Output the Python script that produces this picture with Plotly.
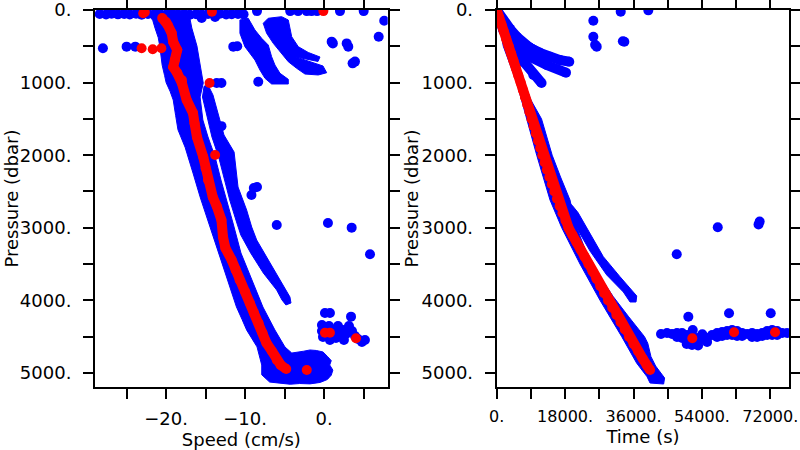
import plotly.graph_objects as go

BLUE = "#0000ff"
RED = "#ff0000"

# ---------------- Left panel: Speed (cm/s) vs Pressure (dbar) ----------------
# main blue band outline (speed, pressure)
MAIN_BAND_S = [-22.0, -21.7, -21.4, -21.0, -20.8, -20.6, -20.5, -20.2, -20.0, -19.5, -19.1, -18.8, -18.5,
               -17.6, -17.1, -16.6, -15.7, -15.2, -14.7, -13.8, -13.4, -12.9, -11.9, -11.1, -10.4, -9.8,
               -8.5, -7.9, -7.9, -6.9, -5.6, -4.3, -3.1, -1.8, -0.5, 0.4, 0.9, 1.1, 0.7, 0.9, 0.4,
               -0.15, -1.0, -1.8, -2.6, -3.1, -4.1,
               -4.96, -6.23, -7.75, -9.27, -10.53, -11.54, -12.4, -13.06, -13.8, -14.7, -15.35, -15.7,
               -15.3, -15.7, -16.1, -16.75, -17.0, -17.5]
MAIN_BAND_P = [100, 140, 250, 380, 500, 640, 760, 900, 1000, 1120, 1240, 1450, 1650,
               1890, 2060, 2245, 2575, 2740, 2900, 3170, 3330, 3485, 3815, 4090, 4260, 4410,
               4640, 4890, 5025, 5125, 5140, 5155, 5145, 5150, 5130, 5090, 5030, 4960, 4890, 4830, 4770,
               4710, 4690, 4683, 4700, 4711, 4725,
               4642, 4408, 4091, 3678, 3347, 2934, 2617, 2342, 2025, 1749, 1515, 1198,
               1006, 758, 496, 248, 110, 90]

# right-hand band that splits away and ends near 4000 dbar
SIDE_BAND_S = [-15.4, -14.75, -14.2, -13.35, -12.6, -11.95, -11.05, -10.55, -9.3, -7.7, -6.01, -5.34,
               -4.84, -4.2, -4.33, -5.81, -7.28, -8.54, -9.17, -9.81, -10.9, -11.15, -11.4, -12.68,
               -13.44, -14.07, -14.7, -15.2]
SIDE_BAND_P = [1198, 1515, 1749, 2025, 2342, 2617, 2934, 3099, 3347, 3623, 3857, 3994,
               4063, 4036, 3953, 3678, 3402, 3168, 2989, 2755, 2438, 2204, 1956, 1722,
               1419, 1171, 1033, 1050]

# upper-right shallow streaks
STREAK_A_S = [-10.66, -10.66, -10.03, -8.76, -8.13, -7.49, -6.65, -4.54, -4.54, -5.59, -6.23, -6.65,
              -7.08, -7.91, -8.76, -9.61]
STREAK_A_P = [138, 321, 505, 689, 826, 941, 1019, 1019, 955, 872, 758, 643, 482, 390, 275, 114]

STREAK_B_S = [-7.71, -7.28, -6.44, -5.38, -4.54, -3.48, -2.43, -0.75, 0.32, -0.15, -1.04, -3.57,
              -0.78, -0.53, -2.01, -3.28, -4.11, -4.54, -5.38, -7.08]
STREAK_B_P = [183, 321, 459, 596, 712, 803, 882, 895, 864, 771, 737, 647,
              709, 647, 585, 505, 368, 138, 92, 114]

# isolated blue samples
LEFT_DOTS_S = [-28.4, -27.6, -26.9, -26.1, -25.3, -24.6, -23.8, -23.1, -22.3, -21.5, -20.8, -20.0, -19.3,
               -18.5, -17.7, -17.0, -16.2, -15.5, -14.7, -13.9, -13.2, -12.4, -11.7, -10.9, -10.2,
               -8.5, -4.3, -3.3, -2.2, -1.6, -0.9, 2.0, 5.0, -15.5, -13.8, -18.0,
               -28.0, -25.0, -23.9, -11.5, -11.0, -13.6, -13.0, -13.0, -8.9, -8.5, -9.2, -6.0,
               0.48, 3.48, 5.8, 0.95, 1.1, 3.05, 2.85, 3.9, 3.6, 6.9, 7.6, -8.34,
               0.1, 0.73, 3.4, -0.28, -0.28, -0.15, 0.61, 0.73, 1.37, 1.75, 2.0, 2.38, 2.76,
               3.14, 3.52, 3.9, 4.28, 4.78, 5.16, 1.49, 2.5]
LEFT_DOTS_P = [55, 62, 50, 60, 55, 62, 50, 65, 55, 60, 55, 62, 50,
               60, 55, 65, 58, 62, 55, 60, 52, 62, 58, 55, 60,
               15, 15, 15, 15, 15, 15, 15, 15, 110, 95, 100,
               528, 505, 505, 505, 500, 1006, 1006, 1600, 2452, 2438, 2548, 2961,
               2934, 2998, 3365, 436, 460, 505, 460, 711, 735, 368, 147, 988,
               4174, 4174, 4224, 4339, 4422, 4504, 4353, 4545, 4408, 4353, 4477, 4408, 4463,
               4353, 4422, 4490, 4532, 4573, 4545, 4518, 4545]

# red (selected) profile
RED_LINE_S = [-20.5, -20.0, -19.8, -19.3, -19.1, -18.6, -18.9, -19.1, -18.6, -18.0, -18.0, -17.4, -16.6,
              -16.4, -16.1, -15.3, -15.0, -14.7, -14.1, -13.6, -13.0, -12.8, -12.5, -11.7, -11.2,
              -10.7, -10.0, -9.4, -8.9, -8.3, -7.8, -7.3, -6.6, -6.0, -5.5, -4.8]
RED_LINE_P = [110, 165, 207, 317, 441, 551, 689, 785, 868, 964, 1006, 1240, 1419,
              1560, 1749, 2025, 2180, 2342, 2576, 2700, 2893, 3127, 3280, 3444, 3580,
              3719, 3880, 4036, 4170, 4311, 4450, 4587, 4700, 4821, 4890, 4945]
RED_DOTS_S = [-22.9, -22.7, -14.2, -0.1, -23.1, -21.7, -20.6, -14.5, -13.8, -2.2, 0.1, 0.73, 4.03]
RED_DOTS_P = [45, 30, 25, 15, 528, 541, 528, 1006, 1997, 4959, 4445, 4445, 4522]

# ---------------- Right panel: Time (s) vs Pressure (dbar) ----------------
DESCENT_BAND_T = [0, 1740, 5260, 7900, 10530, 14030, 17110, 21920, 27190, 32900, 36850, 39560, 40350,
                  43930, 44190, 41830, 40600, 39760, 38900, 34730, 30690, 27190, 23690, 20610,
                  19290, 16800, 14600, 11800, 9000, 5690, 3500, 1500]
DESCENT_BAND_P = [0, 500, 1000, 1500, 2000, 2617, 2999, 3499, 3999, 4500, 4866, 5051, 5138,
                  5152, 5069, 4904, 4775, 4591, 4500, 4225, 3949, 3674, 3351, 2938,
                  2617, 2300, 2000, 1500, 1240, 785, 413, 150]

SLOW_BAND_T = [18500, 20000, 21400, 23690, 28060, 32450, 35090, 36850, 36660, 35090, 33320, 28950,
               24560, 20610, 18800]
SLOW_BAND_P = [2620, 2700, 2790, 2999, 3398, 3674, 3829, 3939, 4022, 4022, 3884, 3650,
               3320, 2961, 2760]

FAN_T = [0, 3500, 7000, 11400, 14030, 13160, 7900, 4820, 2180]
FAN_P = [0, 207, 390, 528, 596, 734, 643, 643, 482]

BRANCH1_T = [0, 1700, 3500, 5300, 6900, 8800, 11400, 14000, 16700, 19100]
BRANCH1_P = [0, 140, 260, 370, 455, 525, 590, 645, 690, 712]
BRANCH2_T = [0, 1740, 5260, 8760, 13160, 18240]
BRANCH2_P = [0, 275, 505, 643, 758, 863]
BRANCH3_T = [0, 1500, 3500, 5300, 7000, 9640, 11800]
BRANCH3_P = [0, 220, 459, 600, 712, 895, 1005]

RIGHT_DOTS_T = [25430, 25430, 26320, 25900, 33590, 33200, 32640, 39900,
                47380, 58170, 68900, 69200, 50430, 61140, 72110, 51590, 54110, 43240,
                44820, 46140, 47450, 47450, 48770, 48770, 50090, 50090, 51400, 51400, 52720, 52720,
                54040, 55360, 55360, 56670, 57990, 57990, 59310, 59310, 60630, 60630, 61940, 61940,
                63260, 63260, 64580, 64580, 65900, 67210, 67210, 68530, 68530, 69850, 69850,
                71160, 71160, 72480, 72480, 73800, 73800, 75120, 76430, 51400, 53000, 50000]
RIGHT_DOTS_P = [147, 368, 505, 480, 437, 430, 23, 5,
                3365, 2993, 2955, 2915, 4225, 4178, 4178, 4408, 4467, 4463,
                4449, 4463, 4449, 4504, 4449, 4518, 4477, 4559, 4490, 4573, 4518, 4587,
                4532, 4518, 4573, 4477, 4449, 4504, 4435, 4490, 4422, 4477, 4408, 4477,
                4422, 4490, 4449, 4490, 4463, 4449, 4504, 4463, 4504, 4449, 4490,
                4422, 4477, 4408, 4477, 4422, 4477, 4449, 4449, 4615, 4620, 4600]

RED_DESCENT_T = [0, 630, 1260, 1890, 2520, 3170, 3800, 4420, 5050, 5670, 6300, 6870, 7440, 8010, 8580,
                 9150, 9720, 10290, 10860, 11430, 12000, 12600, 13200, 13850, 14500, 15150, 15850,
                 16550, 17300, 18100, 18900, 19950, 21000, 22050, 23100, 24150, 25200, 26200, 27200,
                 28250, 29300, 30400, 31500, 32600, 33700, 34800, 36000, 37200, 38400, 39600, 40370]
RED_DESCENT_P = [0, 100, 200, 300, 400, 500, 600, 700, 800, 900, 1000, 1100, 1200, 1300, 1400,
                 1500, 1600, 1700, 1800, 1900, 2000, 2100, 2200, 2300, 2400, 2500, 2600,
                 2700, 2800, 2900, 3000, 3100, 3200, 3300, 3400, 3500, 3600, 3700, 3800,
                 3900, 4000, 4100, 4200, 4300, 4400, 4500, 4600, 4700, 4800, 4900, 4960]
RED_RIGHT_DOTS_T = [51480, 62460, 73250]
RED_RIGHT_DOTS_P = [4522, 4440, 4440]

# ---------------- Tick labels ----------------
P_TICKS = [0, 500, 1000, 1500, 2000, 2500, 3000, 3500, 4000, 4500, 5000]
P_LABELS = ["0.", "", "1000.", "", "2000.", "", "3000.", "", "4000.", "", "5000."]
S_TICKS = [-25, -20, -15, -10, -5, 0, 5]
S_LABELS = ["", "\u221220.", "", "\u221210.", "", "0.", ""]
T_TICKS = [0, 9000, 18000, 27000, 36000, 45000, 54000, 63000, 72000]
T_LABELS = ["0.", "", "18000.", "", "36000.", "", "54000.", "", "72000."]

fig = go.Figure()


def band(xs, ys, xa, ya):
    fig.add_trace(go.Scatter(x=xs + [xs[0]], y=ys + [ys[0]], mode="lines", fill="toself",
                             fillcolor=BLUE, line=dict(color=BLUE, width=1),
                             xaxis=xa, yaxis=ya, hoverinfo="skip", showlegend=False))


def chain(xs, ys, xa, ya, color, width):
    fig.add_trace(go.Scatter(x=xs, y=ys, mode="lines+markers",
                             line=dict(color=color, width=width),
                             marker=dict(color=color, size=width),
                             xaxis=xa, yaxis=ya, hoverinfo="skip", showlegend=False))


def dots(xs, ys, xa, ya, color):
    fig.add_trace(go.Scatter(x=xs, y=ys, mode="markers",
                             marker=dict(color=color, size=10, line=dict(width=0)),
                             xaxis=xa, yaxis=ya, hoverinfo="skip", showlegend=False))


# left panel
band(MAIN_BAND_S, MAIN_BAND_P, "x", "y")
band(SIDE_BAND_S, SIDE_BAND_P, "x", "y")
band(STREAK_A_S, STREAK_A_P, "x", "y")
band(STREAK_B_S, STREAK_B_P, "x", "y")
dots(LEFT_DOTS_S, LEFT_DOTS_P, "x", "y", BLUE)
chain(RED_LINE_S, RED_LINE_P, "x", "y", RED, 10)
dots(RED_DOTS_S, RED_DOTS_P, "x", "y", RED)

# right panel
band(DESCENT_BAND_T, DESCENT_BAND_P, "x2", "y2")
band(SLOW_BAND_T, SLOW_BAND_P, "x2", "y2")
band(FAN_T, FAN_P, "x2", "y2")
chain(BRANCH1_T, BRANCH1_P, "x2", "y2", BLUE, 10)
chain(BRANCH2_T, BRANCH2_P, "x2", "y2", BLUE, 10)
chain(BRANCH3_T, BRANCH3_P, "x2", "y2", BLUE, 10)
dots(RIGHT_DOTS_T, RIGHT_DOTS_P, "x2", "y2", BLUE)
chain(RED_DESCENT_T, RED_DESCENT_P, "x2", "y2", RED, 10)
dots(RED_RIGHT_DOTS_T, RED_RIGHT_DOTS_P, "x2", "y2", RED)

FONT = dict(family="DejaVu Sans", size=18, color="#000000")
FONT_T = dict(family="DejaVu Sans", size=16, color="#000000")
common = dict(showline=True, linecolor="#000000", linewidth=2, mirror="ticks", ticks="outside",
              ticklen=10, tickwidth=1.5, tickcolor="#000000", showgrid=False, zeroline=False,
              automargin=False, ticklabeloverflow="allow")

fig.update_layout(
    width=800, height=450,
    margin=dict(l=0, r=0, t=10, b=63),
    paper_bgcolor="white", plot_bgcolor="white",
    font=FONT,
    showlegend=False,
    xaxis=dict(domain=[95 / 800, 387.7 / 800], range=[-29.0, 8.04], anchor="y",
               tickmode="array", tickvals=S_TICKS, ticktext=S_LABELS, tickfont=FONT,
               ticklabelstandoff=4,
               title=dict(text="Speed (cm/s)", font=FONT, standoff=4), **common),
    yaxis=dict(domain=[0, 1], range=[5193, 0], anchor="x",
               tickmode="array", tickvals=P_TICKS, ticktext=P_LABELS, tickfont=FONT,
               ticklabelstandoff=8, title=dict(text=""), **common),
    xaxis2=dict(domain=[496.7 / 800, 789.3 / 800], range=[0, 77000], anchor="y2",
                tickmode="array", tickvals=T_TICKS, ticktext=T_LABELS, tickfont=FONT_T,
                ticklabelstandoff=4,
                title=dict(text="Time (s)", font=FONT, standoff=5), **common),
    yaxis2=dict(domain=[0, 1], range=[5193, 0], anchor="x2",
                tickmode="array", tickvals=P_TICKS, ticktext=P_LABELS, tickfont=FONT,
                ticklabelstandoff=8, title=dict(text=""), **common),
    annotations=[
        dict(text="Pressure (dbar)", x=11 / 800, y=0.5, xref="paper", yref="paper",
             textangle=-90, showarrow=False, xanchor="center", yanchor="middle", font=FONT),
        dict(text="Pressure (dbar)", x=411 / 800, y=0.5, xref="paper", yref="paper",
             textangle=-90, showarrow=False, xanchor="center", yanchor="middle", font=FONT),
    ],
)

fig.write_html("out.html", config={"displayModeBar": False},
               post_script="document.body.style.margin='0px';document.body.style.overflow='hidden';")
